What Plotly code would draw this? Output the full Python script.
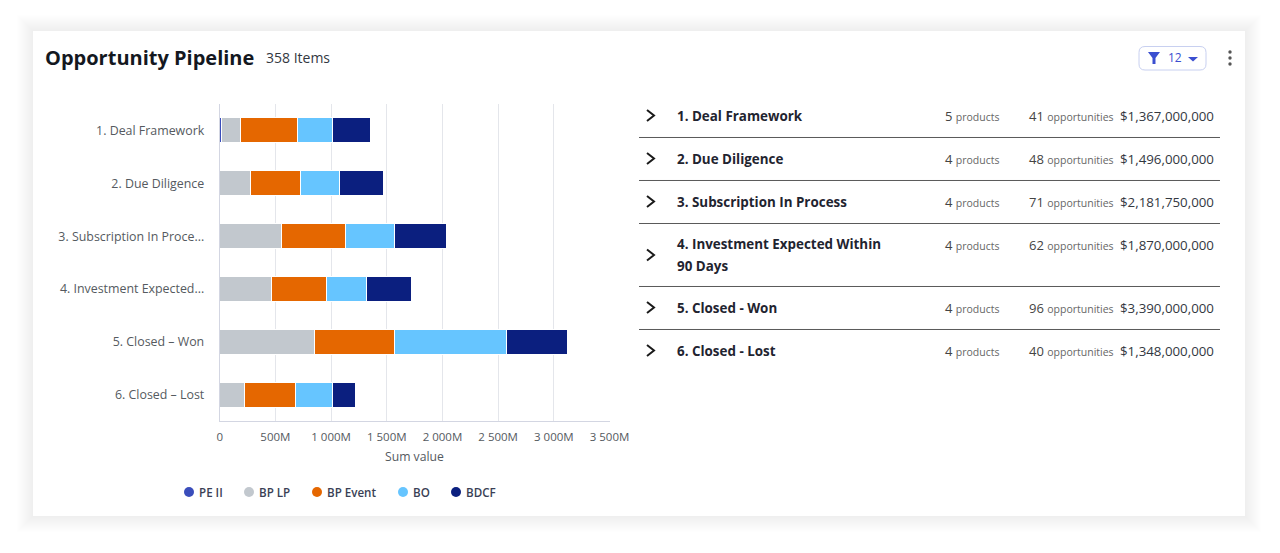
import plotly.graph_objects as go

W, H = 1280, 553

stages = ["1. Deal Framework", "2. Due Diligence", "3. Subscription In Process",
          "4. Investment Expected Within 90 Days", "5. Closed - Won", "6. Closed - Lost"]
stage_ticks = ["1. Deal Framework", "2. Due Diligence", "3. Subscription In Proce...",
               "4. Investment Expected...", "5. Closed – Won", "6. Closed – Lost"]

pe_ii = [20, 0, 0, 0, 0, 0]
bp_lp = [170, 278, 557, 464, 847, 227]
bp_event = [507, 443, 569, 494, 719, 452]
bo = [315, 354, 440, 356, 1009, 333]
bdcf = [338, 397, 467, 405, 548, 204]

tick_vals = [0, 500, 1000, 1500, 2000, 2500, 3000, 3500]
tick_text = ["0", "500M", "1 000M", "1 500M", "2 000M", "2 500M", "3 000M", "3 500M"]

products = [5, 4, 4, 4, 4, 4]
opportunities = [41, 48, 71, 62, 96, 40]
totals = ["$1,367,000,000", "$1,496,000,000", "$2,181,750,000",
          "$1,870,000,000", "$3,390,000,000", "$1,348,000,000"]

series_names = ["PE II", "BP LP", "BP Event", "BO", "BDCF"]
series_vals = [pe_ii, bp_lp, bp_event, bo, bdcf]
colors = ["#3a4dbb", "#c2c8ce", "#e56700", "#66c5ff", "#0b1f7f"]


def px(x):
    return x / W


def py(y):
    return 1 - y / H


def rect(x0, y0, x1, y1, **kw):
    return dict(type="rect", xref="paper", yref="paper", x0=px(x0), y0=py(y0), x1=px(x1), y1=py(y1), **kw)


def path(points, closed=False, **kw):
    d = "M" + " L".join(f"{px(x):.5f},{py(y):.5f}" for x, y in points) + (" Z" if closed else "")
    return dict(type="path", xref="paper", yref="paper", path=d, **kw)


def dot(x, y, r, color):
    return dict(type="circle", xref="paper", yref="paper", x0=px(x - r), x1=px(x + r), y0=py(y - r), y1=py(y + r),
                fillcolor=color, line=dict(width=0))


def label(x, y, text, size, color, anchor="left", weight=400):
    # annotations carry about 2px of padding, take it back out
    shift = {"left": -2, "right": 2, "center": 0}[anchor]
    return dict(xref="paper", yref="paper", x=px(x), y=py(y), text=text, showarrow=False, xanchor=anchor, xshift=shift,
                yanchor="middle", align=anchor, font=dict(family="Open Sans", size=size, color=color, weight=weight))


fig = go.Figure()
for name, vals, color in zip(series_names, series_vals, colors):
    fig.add_trace(go.Bar(y=stages, x=vals, name=name, orientation="h", marker=dict(color=color, line=dict(color="white", width=1))))

shapes = []
# card shadow
for i in range(16, 0, -1):
    shapes.append(rect(33 - i, 31 - i, 1245 + i, 516 + i, fillcolor="rgba(0,0,0,0.005)", line=dict(width=0), layer="below"))
shapes.append(rect(33, 31, 1245, 516, fillcolor="white", line=dict(width=0), layer="below"))

annotations = [
    label(45, 58, "Opportunity Pipeline", 20, "#14181f", weight=700),
    label(266, 58, "358 Items", 14, "#33383f"),
    label(1168, 58, "12", 12, "#3b4fd0"),
    label(414, 456, "Sum value", 12.2, "#555a60", anchor="center"),
]

# filter button
r = 6
shapes.append(dict(type="path", xref="paper", yref="paper",
                   path=f"M{px(1139 + r)},{py(46.5)} L{px(1206 - r)},{py(46.5)} Q{px(1206)},{py(46.5)} {px(1206)},{py(46.5 + r)} "
                        f"L{px(1206)},{py(70 - r)} Q{px(1206)},{py(70)} {px(1206 - r)},{py(70)} L{px(1139 + r)},{py(70)} "
                        f"Q{px(1139)},{py(70)} {px(1139)},{py(70 - r)} L{px(1139)},{py(46.5 + r)} Q{px(1139)},{py(46.5)} {px(1139 + r)},{py(46.5)} Z",
                   line=dict(color="#c8d0f0", width=1), fillcolor="white"))
shapes.append(path([(1148, 52), (1160, 52), (1155.5, 58), (1155.5, 64), (1152.5, 64), (1152.5, 58)], closed=True,
                   fillcolor="#3b4fd0", line=dict(width=0)))
shapes.append(path([(1188, 57), (1198, 57), (1193, 61.5)], closed=True, fillcolor="#3b4fd0", line=dict(width=0)))
for y in [52, 58, 64]:
    shapes.append(dot(1230, y, 1.7, "#555555"))

# legend
legend_x = [189, 249, 317, 403, 456]
for name, color, x in zip(series_names, colors, legend_x):
    shapes.append(dot(x, 492, 5, color))
    annotations.append(label(x + 10, 492, name, 11.6, "#3a3f55", weight=600))

# stage table
row_y = [115.5, 158.5, 201.5, 255, 307.5, 350.5]
row_lines = [137.5, 180.5, 223.5, 286.5, 329.5]
for y in row_lines:
    shapes.append(path([(639, y), (1220, y)], line=dict(color="#5a5a5a", width=1)))
for i, y in enumerate(row_y):
    shapes.append(path([(647, y - 5.5), (654, y), (647, y + 5.5)], line=dict(color="#1a1a1a", width=2)))
    if i == 3:
        annotations.append(label(677, 244, "4. Investment Expected Within", 13.4, "#1f2430", weight=700))
        annotations.append(label(677, 265.5, "90 Days", 13.4, "#1f2430", weight=700))
        y = 244.5
    else:
        annotations.append(label(677, y, stages[i], 13.4, "#1f2430", weight=700))
    annotations.append(label(999, y, f"{products[i]} <span style='font-size:10.5px;color:#666'>products</span>", 13, "#444444", anchor="right"))
    annotations.append(label(1114, y, f"{opportunities[i]} <span style='font-size:10.5px;color:#666'>opportunities</span>", 13, "#444444", anchor="right"))
    annotations.append(label(1214, y, totals[i], 13.3, "#33383f", anchor="right"))

fig.update_layout(
    width=W, height=H,
    barmode="stack", bargap=0.527,
    showlegend=False,
    margin=dict(l=0, r=0, t=0, b=0),
    paper_bgcolor="white", plot_bgcolor="rgba(0,0,0,0)",
    font=dict(family="Open Sans", size=12, color="#555a60"),
    shapes=shapes, annotations=annotations,
    xaxis=dict(domain=[px(219.7), px(609.5)], range=[0, 3500], tickvals=tick_vals, ticktext=tick_text, automargin=False,
               tickfont=dict(size=11.5, color="#555a60"), gridcolor="#e4e6eb", gridwidth=1, zeroline=False,
               showline=True, linecolor="#d3d6e2", linewidth=1, ticks="", ticklabelstandoff=5),
    yaxis=dict(domain=[py(421.3), py(104)], autorange="reversed", tickvals=stages, ticktext=stage_ticks, automargin=False,
               tickfont=dict(size=12.4, color="#555a60"), showgrid=False, zeroline=False,
               showline=True, linecolor="#d3d6e2", linewidth=1, ticks="", ticklabelstandoff=12),
)

fig.write_html("out.html", config=dict(displayModeBar=False), post_script="document.body.style.margin='0';")
